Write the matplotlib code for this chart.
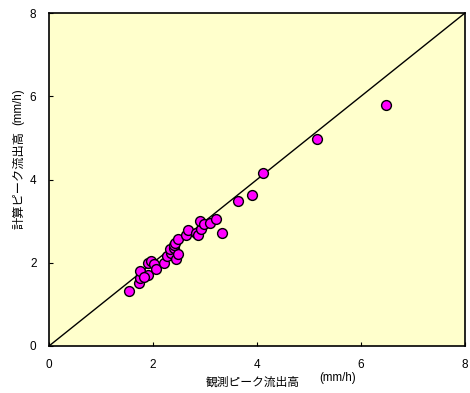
import matplotlib
matplotlib.use("Agg")
import matplotlib.pyplot as plt

plt.rcParams['font.family'] = ['Liberation Sans', 'Noto Sans CJK JP', 'DejaVu Sans']

# observed vs. computed peak runoff (mm/h)
observed = [1.54, 1.73, 1.75, 1.75, 1.90, 1.82, 1.91, 1.97, 2.02, 2.05,
            2.21, 2.26, 2.35, 2.33, 2.40, 2.44, 2.49, 2.40, 2.43, 2.49,
            2.63, 2.67, 2.83, 2.87, 2.92, 2.90, 2.99, 3.09, 3.21, 3.33,
            3.64, 3.90, 4.12, 5.15, 6.48]
computed = [1.33, 1.51, 1.64, 1.79, 1.71, 1.65, 2.00, 2.04, 1.96, 1.84,
            1.99, 2.16, 2.23, 2.32, 2.35, 2.08, 2.21, 2.43, 2.47, 2.58,
            2.66, 2.79, 2.72, 2.67, 2.82, 3.01, 2.93, 2.96, 3.04, 2.71,
            3.49, 3.63, 4.16, 4.98, 5.78]

axis_max = 8
ticks = [0, 2, 4, 6, 8]
tick_labels = ['0', '2', '4', '6', '8']

fig = plt.figure(figsize=(4.70, 3.93), dpi=100)
ax = fig.add_axes([49 / 470, 47 / 393, 416 / 470, 333 / 393])
ax.set_facecolor('#FFFFCC')

# 1:1 reference line
ax.plot([0, axis_max], [0, axis_max], color='black', lw=1.0, zorder=2)

ax.scatter(observed, computed, s=50, facecolor='#FF00FF', edgecolor='black',
           linewidths=1.0, zorder=3, clip_on=False)

ax.set_xlim(0, axis_max)
ax.set_ylim(0, axis_max)
ax.set_xticks(ticks)
ax.set_yticks(ticks)
ax.set_xticklabels(tick_labels)
ax.set_yticklabels(tick_labels)
ax.tick_params(direction='in', length=3, width=0.8, labelsize=8.5,
               colors='black', pad=9)
for s in ax.spines.values():
    s.set_linewidth(1.2)
    s.set_color('black')

# axis titles, with the unit set slightly smaller
jp = ['Noto Sans CJK JP', 'DejaVu Sans']
fig.text(253 / 470, 1 - 382 / 393, '観測ピーク流出高', ha='center', va='center',
         fontsize=8.5, family=jp)
fig.text(338 / 470, 1 - 378 / 393, '(mm/h)', ha='center', va='center',
         fontsize=8.3)
fig.text(19 / 470, 1 - 180 / 393, '計算ピーク流出高', ha='center', va='center',
         rotation=90, fontsize=8.8, family=jp)
fig.text(18 / 470, 1 - 107 / 393, '(mm/h)', ha='center', va='center',
         rotation=90, fontsize=8.3)

fig.savefig('out.png', dpi=100)
